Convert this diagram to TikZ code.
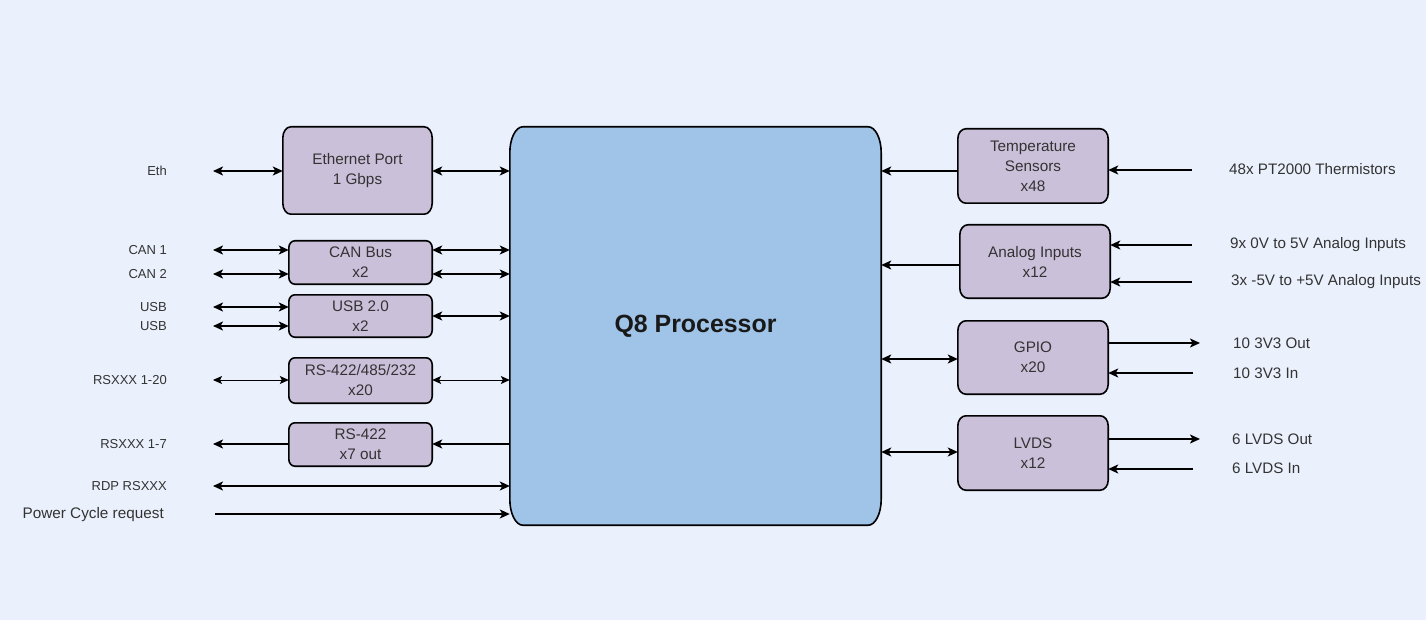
\documentclass[tikz,border=0pt]{standalone}
\usepackage{fontspec}
\setmainfont{Liberation Sans}
\usetikzlibrary{arrows.meta,backgrounds,calc}
\definecolor{bg}{HTML}{EAF0FC}
\definecolor{boxfill}{HTML}{CBC0DA}
\definecolor{procfill}{HTML}{9FC4E8}
\definecolor{txt}{HTML}{333333}
\newcommand\softoutline[4]{%
  \draw[line width=1.6pt, fill=#4]
    ([xshift=#2]#1.north west) -- ([xshift=-#2]#1.north east)
    .. controls ([xshift=-0.45*#2]#1.north east) and ([yshift=-0.45*#3]#1.north east) .. ([yshift=-#3]#1.north east)
    -- ([yshift=#3]#1.south east)
    .. controls ([yshift=0.45*#3]#1.south east) and ([xshift=-0.45*#2]#1.south east) .. ([xshift=-#2]#1.south east)
    -- ([xshift=#2]#1.south west)
    .. controls ([xshift=0.45*#2]#1.south west) and ([yshift=0.45*#3]#1.south west) .. ([yshift=#3]#1.south west)
    -- ([yshift=-#3]#1.north west)
    .. controls ([yshift=-0.45*#3]#1.north west) and ([xshift=0.45*#2]#1.north west) .. ([xshift=#2]#1.north west) -- cycle;}
\tikzset{
  blk/.style={inner sep=0pt, align=center, text=txt,
    font=\fontsize{15.3}{20}\selectfont},
  llab/.style={anchor=east, inner sep=0pt, text=txt,
    font=\fontsize{13}{15}\selectfont},
  rlab/.style={anchor=west, inner sep=0pt, text=txt,
    font=\fontsize{15.2}{18}\selectfont},
  conn/.style={line width=1.6pt, >={Stealth[length=10pt,width=9pt,inset=2.5pt]}},
  thin conn/.style={line width=0.9pt, >={Stealth[length=9pt,width=8pt,inset=2pt]}},
}
\begin{document}
\begin{tikzpicture}[x=1pt,y=-1pt]
\useasboundingbox (0,0) rectangle (1426,620);
% blocks
\node[blk, minimum width=371pt, minimum height=398pt, text=black!90,
  font=\fontsize{24.9}{28}\selectfont\bfseries] (proc) at (695.5,326) {Q8 Processor};
\node[blk, minimum width=149pt, minimum height=87pt] (eth) at (357.5,170.5) {Ethernet Port\\1 Gbps};
\node[blk, minimum width=143pt, minimum height=43pt] (can) at (360.5,262.5) {CAN Bus\\x2};
\node[blk, minimum width=143pt, minimum height=42pt] (usb) at (360.5,316) {USB 2.0\\x2};
\node[blk, minimum width=143pt, minimum height=45pt] (rs) at (360.5,380.5) {RS-422/485/232\\x20};
\node[blk, minimum width=143pt, minimum height=43pt] (rsout) at (360.5,444.5) {RS-422\\x7 out};
\node[blk, minimum width=150pt, minimum height=74pt] (temp) at (1033,166) {Temperature\\Sensors\\x48};
\node[blk, minimum width=150pt, minimum height=73pt] (ana) at (1035,261.5) {Analog Inputs\\x12};
\node[blk, minimum width=150pt, minimum height=73pt] (gpio) at (1033,357.5) {GPIO\\x20};
\node[blk, minimum width=150pt, minimum height=74pt] (lvds) at (1033,453) {LVDS\\x12};
\begin{pgfonlayer}{background}
  \fill[bg] (0,0) rectangle (1426,620);
  \softoutline{proc}{13pt}{26pt}{procfill}
  \softoutline{eth}{8pt}{11pt}{boxfill}
  \softoutline{can}{6pt}{7pt}{boxfill}
  \softoutline{usb}{6pt}{7pt}{boxfill}
  \softoutline{rs}{6pt}{7pt}{boxfill}
  \softoutline{rsout}{6pt}{7pt}{boxfill}
  \softoutline{temp}{8pt}{10pt}{boxfill}
  \softoutline{ana}{8pt}{10pt}{boxfill}
  \softoutline{gpio}{8pt}{10pt}{boxfill}
  \softoutline{lvds}{8pt}{10pt}{boxfill}
\end{pgfonlayer}
% left labels
\node[llab] (leth) at (167,171) {Eth};
\node[llab] (lcan1) at (167,250) {CAN 1};
\node[llab] (lcan2) at (167,274) {CAN 2};
\node[llab] (lusb1) at (167,307) {USB};
\node[llab] (lusb2) at (167,326) {USB};
\node[llab] (lrs) at (167,380) {RSXXX 1-20};
\node[llab] (lrs7) at (167,444) {RSXXX 1-7};
\node[llab] (lrdp) at (167,486) {RDP RSXXX};
\node[llab, font=\fontsize{15.3}{18}\selectfont] (lpow) at (164,515) {Power Cycle request};
% left connector ends
\coordinate (ceth) at (213,171);
\coordinate (ccan1) at (213,250);
\coordinate (ccan2) at (213,274);
\coordinate (cusb1) at (213,307);
\coordinate (cusb2) at (213,326);
\coordinate (cusbr) at (213,316);
\coordinate (crs) at (213,380);
\coordinate (crs7) at (213,444);
\coordinate (crdp) at (213,486);
\coordinate (cpow) at (215,514);
% left connectors
\draw[conn,<->] (ceth) -- (ceth -| eth.west);
\draw[conn,<->] (ceth -| eth.east) -- (ceth -| proc.west);
\draw[conn,<->] (ccan1) -- (ccan1 -| can.west);
\draw[conn,<->] (ccan2) -- (ccan2 -| can.west);
\draw[conn,<->] (ccan1 -| can.east) -- (ccan1 -| proc.west);
\draw[conn,<->] (ccan2 -| can.east) -- (ccan2 -| proc.west);
\draw[conn,<->] (cusb1) -- (cusb1 -| usb.west);
\draw[conn,<->] (cusb2) -- (cusb2 -| usb.west);
\draw[conn,<->] (cusbr -| usb.east) -- (cusbr -| proc.west);
\draw[thin conn,<->] (crs) -- (crs -| rs.west);
\draw[thin conn,<->] (crs -| rs.east) -- (crs -| proc.west);
\draw[conn,->] (crs7 -| rsout.west) -- (crs7);
\draw[conn,->] (crs7 -| proc.west) -- (crs7 -| rsout.east);
\draw[conn,<->] (crdp) -- (crdp -| proc.west);
\draw[conn,->] (cpow) -- (cpow -| proc.west);
% right connector ends
\coordinate (ctemp) at (1192,170);
\coordinate (ctempp) at (0,171);
\coordinate (cana1) at (1192,245);
\coordinate (cana2) at (1192,282);
\coordinate (canap) at (0,265);
\coordinate (cgout) at (1200,343);
\coordinate (cgin) at (1193,373);
\coordinate (cgp) at (0,359);
\coordinate (clout) at (1200,439);
\coordinate (clin) at (1193,469);
\coordinate (clp) at (0,452);
% right connectors
\draw[conn,->] (ctempp -| temp.west) -- (ctempp -| proc.east);
\draw[conn,->] (ctemp) -- (ctemp -| temp.east);
\draw[conn,->] (canap -| ana.west) -- (canap -| proc.east);
\draw[conn,->] (cana1) -- (cana1 -| ana.east);
\draw[conn,->] (cana2) -- (cana2 -| ana.east);
\draw[conn,<->] (cgp -| proc.east) -- (cgp -| gpio.west);
\draw[conn,->] (cgout -| gpio.east) -- (cgout);
\draw[conn,->] (cgin) -- (cgin -| gpio.east);
\draw[conn,<->] (clp -| proc.east) -- (clp -| lvds.west);
\draw[conn,->] (clout -| lvds.east) -- (clout);
\draw[conn,->] (clin) -- (clin -| lvds.east);
% right labels
\node[rlab] (rtemp) at (1229,169) {48x PT2000 Thermistors};
\node[rlab] (rana1) at (1230,245) {9x 0V to 5V Analog Inputs};
\node[rlab] (rana2) at (1231,282) {3x -5V to +5V Analog Inputs};
\node[rlab] (rgout) at (1233,343) {10 3V3 Out};
\node[rlab] (rgin) at (1233,373) {10 3V3 In};
\node[rlab] (rlout) at (1232,439) {6 LVDS Out};
\node[rlab] (rlin) at (1232,468) {6 LVDS In};
\end{tikzpicture}
\end{document}
